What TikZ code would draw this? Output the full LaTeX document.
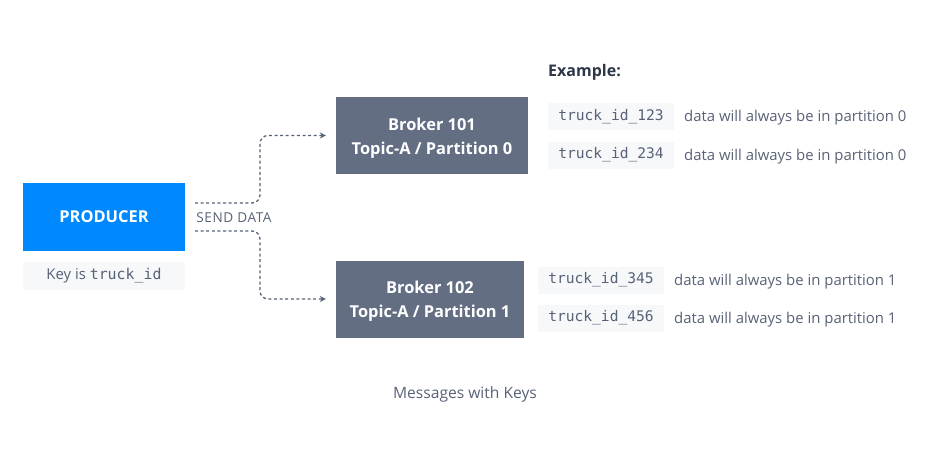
\documentclass[tikz,border=0pt]{standalone}
\usepackage{fontspec}
\setmainfont{Open Sans}
\setmonofont{DejaVu Sans Mono}
\usetikzlibrary{arrows.meta}
\definecolor{producerblue}{RGB}{0,136,255}
\definecolor{brokergray}{RGB}{100,110,131}
\definecolor{textgray}{RGB}{88,98,118}
\definecolor{darktext}{RGB}{45,55,72}
\definecolor{keybg}{RGB}{246,248,250}
\newcommand{\topstrut}{\rule{0pt}{17.5pt}}
\tikzset{
  broker/.style={fill=brokergray, text=white, font=\fontsize{16.4}{24}\selectfont\bfseries,
    align=center, inner sep=0pt, minimum height=77pt},
  keybox/.style={fill=keybg, text=textgray, font=\fontsize{14.6}{16}\selectfont\ttfamily,
    inner sep=0pt, minimum width=126pt, minimum height=27pt},
  note/.style={text=textgray, font=\fontsize{14.9}{16}\selectfont, anchor=west, inner sep=0pt},
  flow/.style={draw=textgray, line width=1.3pt, dash pattern=on 3pt off 2.6pt,
    rounded corners=8pt, -{Stealth[length=6pt,width=6pt]}, shorten >=10pt}
}
\begin{document}
\begin{tikzpicture}[x=1pt,y=1pt]
      \useasboundingbox (0,0) rectangle (938,-461);
      \node (producer) at (104,-217) [fill=producerblue, text=white, minimum width=162pt,
        minimum height=68pt, inner sep=0pt, font=\fontsize{16.4}{18}\selectfont\bfseries] {PRODUCER};
      \node (key) at (104,-276) [fill=keybg, text=textgray, minimum width=162pt,
        minimum height=28pt, inner sep=0pt, font=\fontsize{14.9}{16}\selectfont] {Key is \texttt{truck\_id}};
      \node (send) at (234,-218) [text=textgray, font=\fontsize{13.6}{14}\selectfont\addfontfeature{LetterSpace=4}] {SEND DATA};
      \node (broker1) at (432,-135.5) [broker, minimum width=192pt] {\topstrut Broker 101\\Topic-A / Partition 0};
      \node (broker2) at (430,-299) [broker, minimum width=188pt] {\topstrut Broker 102\\Topic-A / Partition 1};
      \node (example) at (548,-72) [anchor=west, inner sep=0pt, text=darktext,
        font=\fontsize{16}{18}\selectfont\bfseries] {Example:};
      \node (k1) at (611,-116.5) [keybox] {truck\_id\_123};
      \node (n1) at (684,-118) [note] {data will always be in partition 0};
      \node (k2) at (611,-155) [keybox] {truck\_id\_234};
      \node (n2) at (684,-156.5) [note] {data will always be in partition 0};
      \node (k3) at (601,-280) [keybox] {truck\_id\_345};
      \node (n3) at (674,-281.5) [note] {data will always be in partition 1};
      \node (k4) at (601,-318) [keybox] {truck\_id\_456};
      \node (n4) at (674,-319.5) [note] {data will always be in partition 1};
      \node (caption) at (465,-394) [text=textgray, font=\fontsize{15.6}{16}\selectfont] {Messages with Keys};
      \coordinate (out1) at (195,-203);
      \coordinate (out2) at (195,-231);
      \coordinate (bend1) at (260,-135.5);
      \coordinate (bend2) at (260,-299);
      \draw[flow] (out1) -| (bend1) -- (broker1.west);
      \draw[flow] (out2) -| (bend2) -- (broker2.west);
    \end{tikzpicture}
\end{document}
